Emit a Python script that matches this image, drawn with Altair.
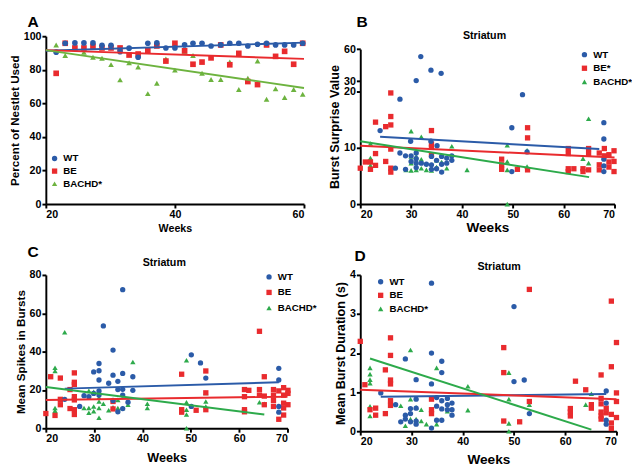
import altair as alt
import pandas as pd

FONT = "Liberation Sans"
GROUPS = ["WT", "BE", "BACHD"]
COLORS_A = ["#2B5BA8", "#E92B2E", "#6DB33F"]
COLORS = ["#2B5BA8", "#E92B2E", "#2DAA4B"]
SHAPES = ["circle", "square", "triangle-up"]

# ---------------- Panel A: nestlet use ----------------
a_weeks = [21.6, 23.0, 24.5, 25.9, 27.3, 28.7, 30.1, 31.5, 32.9, 34.3, 35.8, 37.2, 38.6, 40.0,
           41.5, 42.8, 44.2, 45.6, 47.1, 48.5, 49.9, 51.3, 52.8, 54.2, 55.6, 57.0, 58.4, 59.8]
a_wt = [90.5, 95.8, 96, 96, 96, 94.6, 94.6, 90.8, 92.9, 87.5, 95.8, 96, 93, 93,
        94.8, 95.8, 95.8, 94.2, 94.8, 95.8, 95.8, 94.2, 95.2, 95.8, 94.8, 94.8, 94.8, 95.8]
a_be = [77.9, 95.8, 93, 93, 94, 93, 93, 93, 88.8, 89.4, 91.3, 94.2, 85.2, 95.8,
        91.3, 83.3, 84.6, 87.1, 94.8, 83, 89.8, 73, 71.2, 94.8, 88, 91, 83.3, 95.8]
a_bachd = [94.8, 88.5, 93.3, 90.4, 87.5, 86.9, 83.1, 74, 84.2, 81.7, 65.8, 72, 86.5, 79.8,
           91, 88.5, 77.9, 74.2, 74.2, 84.6, 68.3, 75, 85.2, 62.5, 68.7, 63.5, 68.3, 65.4]
a_fit_weeks = [20, 60]
a_fit = {"WT": [91.3, 96.2], "BE": [91.7, 86.5], "BACHD": [91.7, 69.2]}

# ---------------- Panel B: burst surprise ----------------
b_wt_w = [23.9, 27.8, 31, 31.9, 33.9, 35.9, 29.9, 33.9, 35.1, 26.9, 27.8, 28.9, 28.9, 30, 30, 31, 31, 31, 31,
          32, 33, 34, 34, 34, 35, 35, 36, 36, 36, 37, 37, 38, 38, 49.8, 51.9, 52.8, 49.8, 67.9, 67.9, 67.9, 67.9, 67.9]
b_wt_v = [13.1, 18.7, 30.5, 53, 40.3, 37.3, 11.2, 11.2, 10.4, 6.4, 9.1, 8.6, 6.2, 8.6, 7.6, 9.1, 8.1, 7.3, 6.5,
          7.3, 7.1, 8.5, 7.0, 6.2, 7.8, 6.3, 8.5, 7.1, 5.7, 8.2, 7.3, 8.6, 7.8, 13.6, 19.5, 9.3, 5.8, 14.5, 11.6, 8, 6.8, 5.8]
b_be_w = [20, 21, 22, 22, 23, 23, 23, 25, 25, 26, 26, 26, 26, 26, 26, 34, 34, 34, 34, 47.8, 47.8, 47.8, 50.9,
          52.9, 52.9, 52.9, 60.9, 60.9, 60.9, 60.9, 62, 63.8, 63.8, 64.9, 64.9, 64.9, 67, 67, 67, 68, 68,
          68.9, 68.9, 68.9, 69.9, 69.9, 69.9]
b_be_v = [6.4, 7.5, 7.5, 6.2, 14.6, 9, 6.9, 7.6, 13.8, 19.8, 15.6, 14.1, 9.8, 6.4, 5.7, 13.1, 10.7, 10.1, 8.8,
          8, 7, 6.2, 6.2, 13.6, 11.8, 6.1, 9.9, 9, 6.3, 5.8, 6.3, 6.3, 5.8, 9.9, 9, 6.1, 9.1, 7, 6.1, 9.9, 8.6,
          8.8, 7.5, 6.6, 9.5, 7.6, 5.8]
b_bachd_w = [22, 22, 22, 22, 30, 30, 30, 29, 30, 31, 31, 32, 32, 32, 33, 34, 35, 35, 36, 37, 38, 41,
             48.9, 48.9, 48.9, 48.9, 52.8, 52.8, 64.9, 64.9, 63.8]
b_bachd_v = [10.8, 8.2, 7.5, 6.9, 13, 8.5, 7.3, 6.1, 6, 6.1, 8.5, 12, 8, 6.4, 6.1, 6, 7.8, 6.6, 7.5, 6.4, 10.3, 6.1,
             10.5, 7.6, 6.1, 0, 9.6, 6.7, 15.2, 7.3, 8.1]
b_fit = {"WT": ([23.9, 67], [12.0, 9.8]), "BE": ([20, 70], [10.4, 8.3]), "BACHD": ([20, 65], [11.2, 4.8])}

# ---------------- Panel C: mean spikes in bursts ----------------
c_wt_w = [23.9, 27, 27.9, 28.9, 29.9, 29.9, 31, 31, 31, 31, 31, 31.9, 33, 33.9, 33.9, 33.9, 34.9, 34.9, 34.9,
          35.9, 35.9, 35.9, 35.9, 35.9, 37, 38, 38, 50.1, 50.1, 52, 53.1, 68.2, 68.2, 68.2, 68.2]
c_wt_v = [15.1, 11.4, 17, 16.5, 29.4, 18.2, 33.8, 30, 25.2, 19.5, 17.3, 53.4, 23.5, 40.8, 27.7, 14.5, 24.5, 20.2, 8.6,
          72.3, 28.6, 20.3, 17.3, 10.3, 13.6, 26.9, 19.8, 38.3, 11.4, 34.1, 26.2, 31.3, 25.2, 11.4, 8.4]
c_be_w = [20, 21, 21.9, 23, 23, 23, 25, 25, 25.9, 25.9, 25.9, 25.9, 25.9, 25.9, 25.9, 33.9, 33.9, 48.1, 48.1, 48.1,
          51.1, 53.1, 53.1, 53.1, 61.1, 61.1, 61.1, 61.1, 62, 64.2, 64.2, 64.2, 65.2, 65.2, 65.2, 67.1, 67.1, 67.1, 67.1,
          68.2, 68.2, 69.2, 69.2, 69.2, 69.2, 69.2, 70.1, 70.1, 70.1]
c_be_v = [7.7, 26.9, 6.7, 26.2, 12.3, 15.1, 10.3, 20.2, 28.9, 24, 22.9, 16.5, 14.8, 9.7, 7.2, 14, 10.1, 28.2, 9.7, 8.4,
          9.4, 29.9, 18.5, 9.7, 20.2, 16.5, 9.7, 8.6, 19.8, 50.6, 20.2, 17.3, 26.9, 16.8, 12.3, 20.2, 17.3, 14.5, 11.4,
          19.5, 4.7, 21.2, 17.3, 13.1, 10.6, 6.9, 19.8, 18.2, 12.3]
c_bachd_w = [21.9, 21.9, 21.9, 21.9, 23.9, 27.9, 28.9, 28.9, 28.9, 29.9, 29.9, 29.9, 31, 31, 31, 31, 31.9, 33, 33.9,
             34.9, 34.9, 35.9, 37, 38, 41, 41, 49.1, 49.1, 49.1, 49.1, 49.1, 53.1, 53.1, 53.1, 64.2, 65.2]
c_bachd_v = [31.6, 29.9, 10.6, 9.2, 50.1, 10.6, 19.5, 10.6, 8.1, 19, 11.4, 8.9, 16, 14, 10.6, 5.5, 12.8, 9.4, 10.9,
             10.6, 14.8, 10.6, 12.3, 34.6, 12.8, 10.6, 35.5, 13.6, 9.7, 7.2, 0, 18.5, 14, 11.4, 13.6, 12.8]
c_fit = {"WT": ([23.9, 68.2], [20.7, 24.0]), "BE": ([20, 70], [14.8, 16.5]), "BACHD": ([20, 65.2], [21.5, 7.2])}

# ---------------- Panel D: mean burst duration ----------------
d_wt_w = [24, 26.9, 27.9, 28.8, 28.8, 28.8, 29.8, 29.8, 29.8, 30.9, 30.9, 30.9, 30.9, 30.9, 33.9, 33.9, 33.9, 33.9,
          34.9, 34.9, 34.9, 35.9, 35.9, 35.9, 35.9, 35.9, 37, 37, 37, 37.9, 37.9, 37.9, 50, 50, 52, 53,
          68, 68, 68, 68]
d_wt_v = [0.98, 0.68, 0.24, 1.85, 0.41, 0.31, 0.58, 0.45, 0.24, 1.32, 0.82, 0.59, 0.26, 0.18, 3.79, 2.0, 1.21, 0.08,
          0.86, 0.64, 0.28, 1.79, 1.5, 0.78, 0.57, 0.28, 0.84, 0.68, 0.55, 0.72, 0.55, 0.41, 3.19, 1.27, 1.31, 0.45,
          1.03, 0.72, 0.28, 0.18]
d_be_w = [20, 20.9, 21.9, 23, 23, 24.9, 24.9, 25.9, 25.9, 25.9, 25.9, 25.9, 25.9, 33.9, 33.9, 33.9, 48, 48, 48,
          51.1, 53, 53, 61, 61, 61, 62, 64, 65.1, 65.1, 67, 67, 67, 67, 67, 67, 68, 68, 69, 69, 69, 69, 69,
          70, 70, 70, 70]
d_be_v = [2.3, 1.19, 0.55, 0.59, 0.41, 1.57, 0.45, 2.39, 1.94, 1.31, 1.21, 0.78, 0.66, 0.82, 0.55, 0.45, 2.14, 1.5, 0.26,
          0.24, 3.63, 0.76, 0.58, 0.49, 0.39, 1.28, 1.06, 0.68, 0.59, 1.44, 0.84, 0.7, 0.49, 0.39, 0.31, 0.59, 0.47,
          3.33, 1.65, 0.43, 0.21, 0.07, 2.27, 0.98, 0.76, 0.35]
d_bachd_w = [21.9, 21.9, 21.9, 21.9, 21.9, 21.9, 27.9, 28.8, 29.8, 29.8, 29.8, 30.9, 30.9, 31.9, 31.9, 32.9,
             34.9, 34.9, 37, 41, 41, 49, 49, 49, 49, 53, 64, 65.1]
d_bachd_v = [1.62, 1.46, 1.32, 1.23, 0.64, 0.39, 0.65, 0.14, 2.08, 0.82, 0.31, 0.61, 0.31, 0.55, 0.26, 0.18,
             1.62, 0.18, 0.51, 1.15, 0.54, 1.5, 0.82, 0.2, 0, 0.68, 0.68, 0.96]
d_fit = {"WT": ([24, 68], [0.88, 0.95]), "BE": ([20, 70], [1.06, 0.82]), "BACHD": ([21.9, 65.1], [1.86, 0.04])}


def to_df(series):
    rows = []
    for g, (ws, vs) in series.items():
        for w, v in zip(ws, vs):
            rows.append({"week": w, "value": v, "group": g})
    return pd.DataFrame(rows)


def panel(pts, fits, colors, xscale, xvals, yscale, yvals, ytitle, width, height,
          letter, letter_xy, legend_xy, label_expr, striatum_xy=None,
          xtitle_size=12, ytitle_size=12, xtitle_pad=4, pt_size=30, legend_row=4):
    color_scale = alt.Scale(domain=GROUPS, range=colors)
    shape_scale = alt.Scale(domain=GROUPS, range=SHAPES)
    leg = alt.Legend(orient="none", legendX=legend_xy[0], legendY=legend_xy[1], title=None,
                     labelExpr=label_expr, labelFont=FONT, labelFontWeight="bold",
                     labelFontSize=10, labelColor="black", symbolSize=30, rowPadding=legend_row,
                     symbolStrokeWidth=0, labelOffset=4)
    x = alt.X("week:Q", scale=xscale,
              axis=alt.Axis(values=xvals, title="Weeks", titleFontSize=xtitle_size,
                            titlePadding=xtitle_pad, labelOverlap=False))
    y = alt.Y("value:Q", scale=yscale,
              axis=alt.Axis(values=yvals, title=ytitle, titleFontSize=ytitle_size, titlePadding=2,
                            labelOverlap=False))
    order = {"WT": 2, "BE": 1, "BACHD": 0}
    p = pts.copy()
    p["ord"] = p["group"].map(order)
    points = alt.Chart(p).mark_point(filled=True, opacity=1, size=pt_size).encode(
        x=x, y=y,
        color=alt.Color("group:N", scale=color_scale, legend=leg),
        shape=alt.Shape("group:N", scale=shape_scale, legend=leg),
        order=alt.Order("ord:Q"),
    )
    lines = alt.Chart(fits).mark_line(strokeWidth=2).encode(
        x=alt.X("week:Q", axis=alt.Axis(values=xvals, labelOverlap=False)),
        y=alt.Y("value:Q", axis=alt.Axis(values=yvals, labelOverlap=False)),
        color=alt.Color("group:N", scale=color_scale, legend=None),
        detail="group:N",
    )
    layers = [points, lines]
    layers.append(
        alt.Chart(pd.DataFrame({"t": [letter]})).mark_text(
            align="left", baseline="top", font=FONT, fontSize=16, fontWeight="bold", color="black"
        ).encode(text="t:N", x=alt.value(letter_xy[0]), y=alt.value(letter_xy[1]))
    )
    if striatum_xy is not None:
        layers.append(
            alt.Chart(pd.DataFrame({"t": ["Striatum"]})).mark_text(
                align="center", baseline="alphabetic", font=FONT, fontSize=11, fontWeight="bold", color="black"
            ).encode(text="t:N", x=alt.value(striatum_xy[0]), y=alt.value(striatum_xy[1]))
        )
    return alt.layer(*layers).properties(width=width, height=height)


star_bachd = "datum.label == 'BACHD' ? 'BACHD*' : datum.label"
star_b = "datum.label == 'WT' ? 'WT' : datum.label + '*'"

pA = panel(to_df({"WT": (a_weeks, a_wt), "BE": (a_weeks, a_be), "BACHD": (a_weeks, a_bachd)}),
           to_df({g: (a_fit_weeks, a_fit[g]) for g in GROUPS}), COLORS_A,
           alt.Scale(domain=[20, 60], nice=False), [20, 40, 60],
           alt.Scale(domain=[0, 100], nice=False), [0, 20, 40, 60, 80, 100],
           "Percent of Nestlet Used", 266, 173, "A", (-19, -22), (4, 121), star_bachd,
           xtitle_size=11, ytitle_size=12, pt_size=34, xtitle_pad=3, legend_row=3)

pB = panel(to_df({"WT": (b_wt_w, b_wt_v), "BE": (b_be_w, b_be_v), "BACHD": (b_bachd_w, b_bachd_v)}),
           to_df(b_fit), COLORS,
           alt.Scale(domain=[20, 70], nice=False), [20, 30, 40, 50, 60, 70],
           alt.Scale(domain=[0, 20, 60], range=[173, 57.3, 13.3], nice=False, zero=False), [0, 10, 20, 30, 60],
           "Burst Surprise Value", 262, 173, "B", (-4, -22), (226, 14), star_b, striatum_xy=(128, 3),
           xtitle_size=14, ytitle_size=13, xtitle_pad=1)

pC = panel(to_df({"WT": (c_wt_w, c_wt_v), "BE": (c_be_w, c_be_v), "BACHD": (c_bachd_w, c_bachd_v)}),
           to_df(c_fit), COLORS,
           alt.Scale(domain=[20, 70], nice=False), [20, 30, 40, 50, 60, 70],
           alt.Scale(domain=[0, 80], nice=False), [0, 20, 40, 60, 80],
           "Mean Spikes in Bursts", 249, 158, "C", (-19, -32), (225, -3), star_bachd, striatum_xy=(122, -9),
           xtitle_size=13, ytitle_size=12, xtitle_pad=8, legend_row=6)

pD = panel(to_df({"WT": (d_wt_w, d_wt_v), "BE": (d_be_w, d_be_v), "BACHD": (d_bachd_w, d_bachd_v)}),
           to_df(d_fit), COLORS,
           alt.Scale(domain=[20, 70], nice=False), [20, 30, 40, 50, 60, 70],
           alt.Scale(domain=[0, 4], nice=False), [0, 1, 2, 3, 4],
           "Mean Burst Duration (s)", 264, 161, "D", (-6, -27), (16, 2), star_bachd, striatum_xy=(143, -5),
           xtitle_size=14, ytitle_size=13, xtitle_pad=6)

chart = alt.concat(pA, pB, pC, pD, columns=2, spacing={"row": 73, "column": 58},
                   bounds="flush", align="each").resolve_scale(
    color="independent", shape="independent"
).resolve_legend(
    color="independent", shape="independent"
).properties(padding=0).configure_view(
    stroke=None
).configure_axis(
    grid=False, labelFont=FONT, labelFontWeight="bold", labelFontSize=11, labelColor="black",
    titleFont=FONT, titleFontWeight="bold", titleColor="black",
    domainColor="black", domainWidth=2, tickColor="black", tickWidth=2, tickSize=4,
    labelPadding=1, labelOverlap=False,
)

chart.save("out.html", embed_options={"renderer": "svg", "actions": False})
